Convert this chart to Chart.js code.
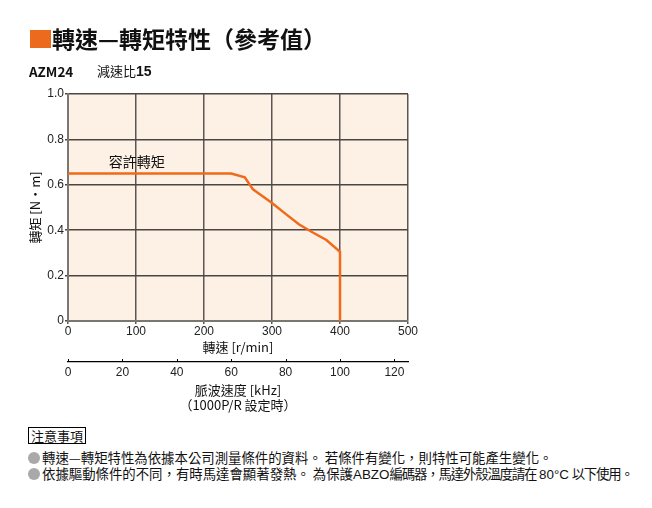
<!DOCTYPE html>
<html>
<head>
<meta charset="utf-8">
<script src="https://cdn.jsdelivr.net/npm/chart.js@4.4.1/dist/chart.umd.min.js"></script>
<style>
  body { margin: 0; background: #fff; width: 652px; height: 508px; position: relative; overflow: hidden;
         font-family: "Noto Sans CJK TC", "Noto Sans", sans-serif; color: #111; }
  #chart { position: absolute; left: 0; top: 0; }
  .abs { position: absolute; white-space: nowrap; }
  #mark { left: 30px; top: 30px; width: 21px; height: 18px; background: #ec6a1d; }
  #title { left: 52px; top: 24px; font-size: 23px; font-weight: bold; line-height: 29px; }
  #model { left: 29px; top: 63px; font-size: 13.5px; font-weight: bold; line-height: 16px; }
  #ratio { left: 97px; top: 63px; font-size: 13px; line-height: 16px; }
  #ratio b { font-family: "Liberation Sans", Arial, sans-serif; font-size: 14px; }
  #noteHead { left: 28px; top: 427px; font-size: 13px; line-height: 15px; border: 1px solid #000; padding: 0 2px; }
  .note { left: 28px; font-size: 13.4px; line-height: 16px; }
  .note i { font-style: normal; font-family: "Liberation Sans", Arial, sans-serif; letter-spacing: 0; }
  .tight { letter-spacing: -1.15px; }
  .dot { display: inline-block; width: 12px; height: 12px; border-radius: 50%; background: #a9a9a9;
         vertical-align: -1px; margin-right: 2px; }
</style>
</head>
<body>
<canvas id="chart" width="652" height="420"></canvas>
<div class="abs" id="mark"></div>
<div class="abs" id="title">轉速—轉矩特性（參考值）</div>
<div class="abs" id="model">AZM24</div>
<div class="abs" id="ratio">減速比<b>15</b></div>
<div class="abs" id="noteHead">注意事項</div>
<div class="abs note" style="top:449px"><span class="dot"></span>轉速—轉矩特性為依據本公司測量條件的資料。 若條件有變化，則特性可能產生變化。</div>
<div class="abs note" style="top:465px"><span class="dot"></span>依據驅動條件的不同，有時馬達會顯著發熱。 為保護<span class="tight"><i>ABZO</i>編碼器，馬達外殼溫度請在<i>&thinsp;80°C&thinsp;</i>以下使用。</span></div>
<script>
// speed [r/min] vs. allowable torque [N·m]
const speed  = [0,    240,  260,   272,  280,   300,  320,   340,   360,  380,   400,   400];
const torque = [0.65, 0.65, 0.633, 0.58, 0.563, 0.52, 0.472, 0.425, 0.39, 0.357, 0.305, 0];

const speedTicks = [0, 100, 200, 300, 400, 500];
const torqueTicks = [0, 0.2, 0.4, 0.6, 0.8, 1.0];
const pulseTicks = [0, 20, 40, 60, 80, 100, 120];

const curveLabel = '容許轉矩';
const curveLabelAt = { x: 60, y: 0.7 };

const numFont = { family: '"Liberation Sans", Arial, sans-serif', size: 12 };
const cjkFont = { family: '"Noto Sans CJK TC", "Noto Sans", sans-serif', size: 13 };

const plotBg = {
  id: 'plotBg',
  beforeDraw(chart) {
    const { ctx, chartArea: a } = chart;
    ctx.save();
    ctx.fillStyle = '#fdf0e4';
    ctx.fillRect(a.left, a.top, a.right - a.left, a.bottom - a.top);
    ctx.restore();
  }
};

// upward tick marks on the pulse speed axis + curve caption
const extras = {
  id: 'extras',
  afterDraw(chart) {
    const { ctx } = chart;
    const s2 = chart.scales.x2;
    ctx.save();
    ctx.strokeStyle = '#000';
    ctx.lineWidth = 1;
    pulseTicks.forEach(v => {
      const px = Math.round(s2.getPixelForValue(v)) + 0.5;
      ctx.beginPath();
      ctx.moveTo(px, s2.top - 3);
      ctx.lineTo(px, s2.top);
      ctx.stroke();
    });
    const sx = chart.scales.x, sy = chart.scales.y;
    ctx.fillStyle = '#111';
    ctx.font = '14px "Noto Sans CJK TC", sans-serif';
    ctx.textBaseline = 'middle';
    ctx.fillText(curveLabel, sx.getPixelForValue(curveLabelAt.x), sy.getPixelForValue(curveLabelAt.y));
    ctx.restore();
  }
};

const ctx = document.getElementById('chart').getContext('2d');

new Chart(ctx, {
  type: 'line',
  data: {
    datasets: [{
      data: speed.map((s, i) => ({ x: s, y: torque[i] })),
      borderColor: '#f06a1a',
      borderWidth: 2.5,
      pointRadius: 0,
      tension: 0,
      fill: false
    }]
  },
  options: {
    responsive: false,
    animation: false,
    layout: { padding: { left: 20, right: 244, top: 94, bottom: 0 } },
    plugins: { legend: { display: false }, tooltip: { enabled: false } },
    scales: {
      x: {
        type: 'linear', position: 'bottom', min: 0, max: 500,
        afterBuildTicks: s => { s.ticks = speedTicks.map(v => ({ value: v })); },
        afterFit: s => { s.height = 41; },
        ticks: { font: numFont, color: '#222', padding: 0, maxRotation: 0 },
        grid: { color: '#5c5652', lineWidth: 1.5, tickLength: 3 },
        border: { color: '#7a7672', width: 2 },
        title: { display: true, text: '轉速 [r/min]', font: cjkFont, color: '#111', padding: { top: 0, bottom: 7 } }
      },
      x2: {
        type: 'linear', position: 'bottom', min: 0, max: 125,
        afterBuildTicks: s => { s.ticks = pulseTicks.map(v => ({ value: v })); },
        afterFit: s => { s.height = 58; },
        ticks: { font: numFont, color: '#222', padding: 3, maxRotation: 0 },
        grid: { drawOnChartArea: false, drawTicks: false },
        border: { display: true, color: '#000', width: 1.2 },
        title: {
          display: true, text: ['脈波速度 [kHz]', '（1000P/R 設定時）'],
          font: { ...cjkFont, lineHeight: 15 / 13 }, color: '#111', padding: { top: 0, bottom: 7.5 }
        }
      },
      y: {
        type: 'linear', position: 'left', min: 0, max: 1,
        afterBuildTicks: s => { s.ticks = torqueTicks.map(v => ({ value: v })); },
        afterFit: s => { s.width = 48; },
        ticks: { font: numFont, color: '#222', padding: 1, callback: v => v === 0 ? '0' : v.toFixed(1) },
        grid: { color: '#4a4643', lineWidth: 1.5, tickLength: 3 },
        border: { color: '#7a7672', width: 2 },
        title: { display: true, text: '轉矩 [N·m]', font: cjkFont, color: '#111', padding: { top: 7, bottom: 0 } }
      }
    }
  },
  plugins: [plotBg, extras]
});
</script>
</body>
</html>
